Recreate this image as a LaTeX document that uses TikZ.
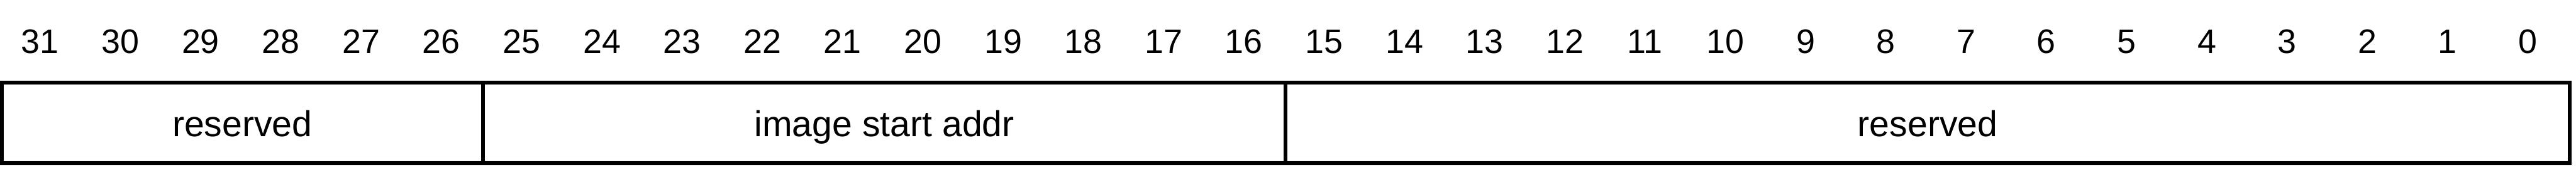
\documentclass[tikz,border=0pt]{standalone}
\usepackage{fontspec}
\setmainfont{Liberation Sans}
\usetikzlibrary{positioning}

\begin{document}
\begin{tikzpicture}[
    field/.style={rectangle, draw, line width=1mm, outer sep=0pt, inner sep=0pt, minimum height=2cm, text height=0.7cm, text depth=0pt, font=\fontsize{25.5}{30}\selectfont},
    bitnum/.style={anchor=base, font=\fontsize{24}{28}\selectfont}
]
    \useasboundingbox (0,0) rectangle (64.2,4.2);

    % Bit numbers
    \foreach \b in {0,...,31} {
        \node[bitnum] (bit\b) at ({0.04 + (31-\b)*2 + 0.96}, 2.88) {\b};
    }

    % Fields
    \node[field, minimum width=12cm, anchor=south west] (rsvhi) at (0.04,0.15) {reserved};
    \node[field, minimum width=20cm, right=0pt of rsvhi] (imgaddr) {image start addr};
    \node[field, minimum width=32cm, right=0pt of imgaddr] (rsvlo) {reserved};
\end{tikzpicture}
\end{document}
